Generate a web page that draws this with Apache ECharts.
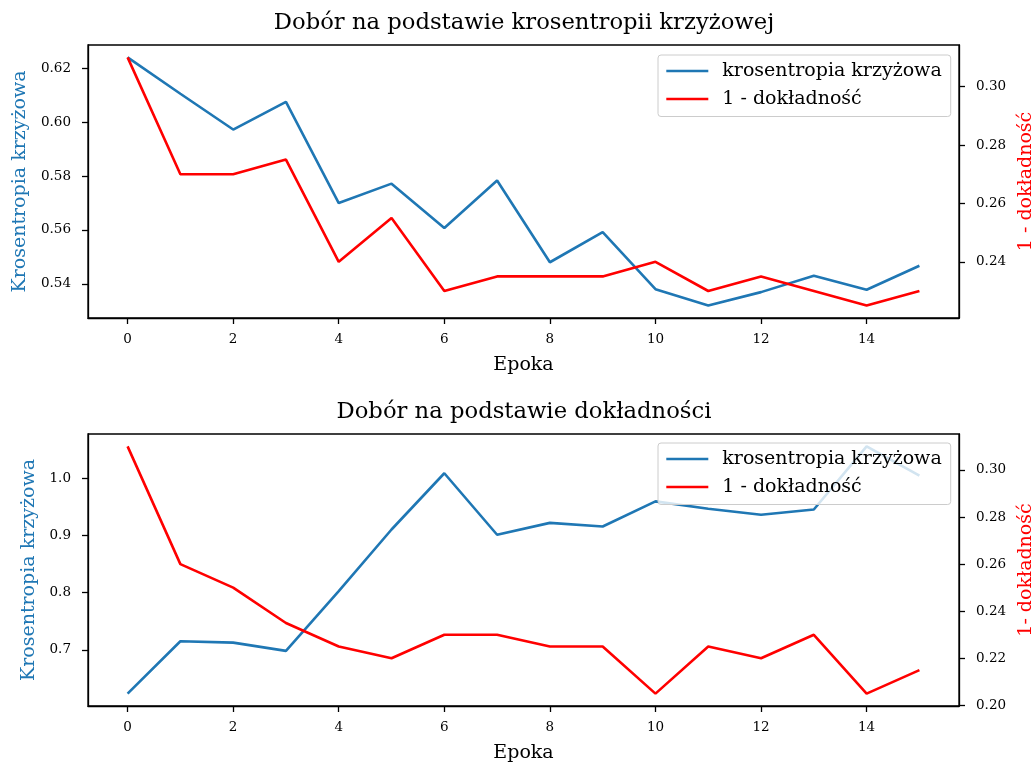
<!DOCTYPE html>
<html>
<head>
<meta charset="utf-8">
<script src="https://cdn.jsdelivr.net/npm/echarts@6/dist/echarts.min.js"></script>
<style>
  html, body { margin: 0; padding: 0; background: #fff; }
  #chart { width: 1034px; height: 765px; }
</style>
</head>
<body>
<div id="chart"></div>
<script>
// epoki i wartosci
var epochs = [0, 1, 2, 3, 4, 5, 6, 7, 8, 9, 10, 11, 12, 13, 14, 15];
var topCE  = [0.6241, 0.6106, 0.5973, 0.6076, 0.5700, 0.5772, 0.5607, 0.5784, 0.5480, 0.5592, 0.5380, 0.5319, 0.5369, 0.5430, 0.5378, 0.5467];
var topErr = [0.310, 0.270, 0.270, 0.275, 0.240, 0.255, 0.230, 0.235, 0.235, 0.235, 0.240, 0.230, 0.235, 0.230, 0.225, 0.230];
var botCE  = [0.6235, 0.7150, 0.7127, 0.6983, 0.8028, 0.9104, 1.0087, 0.9012, 0.9220, 0.9157, 0.9595, 0.9467, 0.9362, 0.9454, 1.0557, 1.0047];
var botErr = [0.310, 0.260, 0.250, 0.235, 0.225, 0.220, 0.230, 0.230, 0.225, 0.225, 0.205, 0.225, 0.220, 0.230, 0.205, 0.215];

// etykiety osi
var xTicks = [0, 2, 4, 6, 8, 10, 12, 14];
var topLeftTicks = [0.54, 0.56, 0.58, 0.60, 0.62];
var topRightTicks = [0.24, 0.26, 0.28, 0.30];
var botLeftTicks = [0.7, 0.8, 0.9, 1.0];
var botRightTicks = [0.20, 0.22, 0.24, 0.26, 0.28, 0.30];

var titles = ['Dobór na podstawie krosentropii krzyżowej', 'Dobór na podstawie dokładności'];
var ceName = 'krosentropia krzyżowa';
var errName = '1 - dokładność';

var FONT = '"DejaVu Serif", serif';
var BLUE = '#1f77b4', RED = '#ff0000';

// jak w matplotlib: 5% marginesu
function pad(arr) {
  var lo = Math.min.apply(null, arr), hi = Math.max.apply(null, arr);
  var m = (hi - lo) * 0.05;
  return [lo - m, hi + m];
}
function pairs(ys) {
  return epochs.map(function (e, i) { return [e, ys[i]]; });
}

var xr = pad(epochs);

function xAxis(grid) {
  return {
    type: 'value', gridIndex: grid, min: xr[0], max: xr[1],
    name: 'Epoka', nameLocation: 'middle', nameGap: 38,
    nameTextStyle: { fontFamily: FONT, fontSize: 19, color: '#000' },
    axisLine: { onZero: false, lineStyle: { color: '#000', width: 1.3 } },
    axisTick: { customValues: xTicks, length: 6, lineStyle: { color: '#000', width: 1.3 } },
    axisLabel: { customValues: xTicks, margin: 14, fontFamily: FONT, fontSize: 13.5, color: '#000' },
    splitLine: { show: false }
  };
}
function yAxis(grid, pos, range, ticks, dec, name, color, gap) {
  return {
    type: 'value', gridIndex: grid, position: pos, min: range[0], max: range[1],
    name: name, nameLocation: 'middle', nameGap: gap,
    nameTextStyle: { fontFamily: FONT, fontSize: 19, color: color },
    axisLine: { show: true, onZero: false, lineStyle: { color: '#000', width: 1.3 } },
    axisTick: { show: true, customValues: ticks, length: 6, lineStyle: { color: '#000', width: 1.3 } },
    axisLabel: {
      customValues: ticks, margin: 17, fontFamily: FONT, fontSize: 13.5, color: '#000',
      formatter: function (v) { return v.toFixed(dec); }
    },
    splitLine: { show: false }
  };
}
function line(name, ys, color, xi, yi) {
  return {
    type: 'line', name: name, data: pairs(ys), xAxisIndex: xi, yAxisIndex: yi,
    symbol: 'none', lineStyle: { color: color, width: 2.6 }, itemStyle: { color: color },
    animation: false
  };
}
function legend(top) {
  return {
    orient: 'vertical', left: 658, top: top, data: [ceName, errName],
    itemWidth: 42, itemHeight: 14, itemGap: 9,
    padding: [6.5, 9, 8, 7],
    itemStyle: { opacity: 0 },
    lineStyle: { width: 2.6 },
    backgroundColor: 'rgba(255,255,255,0.8)', borderColor: '#cccccc', borderWidth: 1, borderRadius: 3,
    textStyle: { fontFamily: FONT, fontSize: 19, color: '#000', padding: [0, 0, 0, 9] }
  };
}

var chart = echarts.init(document.getElementById('chart'));
chart.setOption({
  backgroundColor: '#fff',
  animation: false,
  title: [
    { text: titles[0], left: 524, textAlign: 'center', top: 12, padding: 0,
      textStyle: { fontFamily: FONT, fontSize: 22.7, fontWeight: 'normal', color: '#000' } },
    { text: titles[1], left: 524, textAlign: 'center', top: 401, padding: 0,
      textStyle: { fontFamily: FONT, fontSize: 22.7, fontWeight: 'normal', color: '#000' } }
  ],
  legend: [legend(55), legend(443)],
  grid: [
    { left: 88, right: 75, top: 45, height: 273, outerBoundsMode: 'none', containLabel: false,
      show: true, borderColor: '#000', borderWidth: 1.3, backgroundColor: 'transparent' },
    { left: 88, right: 75, top: 434, height: 272, outerBoundsMode: 'none', containLabel: false,
      show: true, borderColor: '#000', borderWidth: 1.3, backgroundColor: 'transparent' }
  ],
  xAxis: [xAxis(0), xAxis(1)],
  yAxis: [
    yAxis(0, 'left', pad(topCE), topLeftTicks, 2, 'Krosentropia krzyżowa', BLUE, 58.5),
    yAxis(0, 'right', pad(topErr), topRightTicks, 2, '1 - dokładność', RED, 55.5),
    yAxis(1, 'left', pad(botCE), botLeftTicks, 1, 'Krosentropia krzyżowa', BLUE, 49.5),
    yAxis(1, 'right', pad(botErr), botRightTicks, 2, '1- dokładność', RED, 55.5)
  ],
  series: [
    line(ceName, topCE, BLUE, 0, 0),
    line(errName, topErr, RED, 0, 1),
    line(ceName, botCE, BLUE, 1, 2),
    line(errName, botErr, RED, 1, 3)
  ]
});
</script>
</body>
</html>
